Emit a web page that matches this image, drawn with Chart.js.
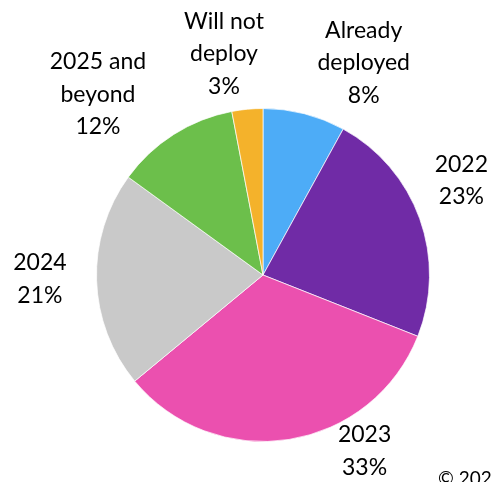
<!DOCTYPE html>
<html>
<head>
<meta charset="utf-8">
<script src="https://cdn.jsdelivr.net/npm/chart.js@4"></script>
<style>
  html, body { margin: 0; padding: 0; background: #fff; }
  #wrap { width: 492px; height: 482px; position: relative; }
</style>
</head>
<body>
<div id="wrap"><canvas id="pie"></canvas></div>
<script>
// Slice names (clockwise from 12 o'clock) and shares in percent
const categories = ['Already\ndeployed', '2022', '2023', '2024', '2025 and\nbeyond', 'Will not\ndeploy'];
const shares = [8, 23, 33, 21, 12, 3];
const sliceColors = ['#4DACF7', '#702BA6', '#EB50AF', '#C9C9C9', '#6CBF4B', '#F4B22B'];

// where each label sits: degrees turned from the slice middle, and distance in radii
const labelTurn = [11, -5.7, -21, 0.8, -10, -4.6];
const labelDist = [1.41, 1.32, 1.22, 1.34, 1.47, 1.35];

const FONT = 'Lato, "Open Sans", sans-serif';

const outsideLabels = {
    id: 'outsideLabels',
    afterDraw(chart) {
        const ctx = chart.ctx;
        const meta = chart.getDatasetMeta(0);
        ctx.save();
        ctx.fillStyle = '#000';
        ctx.font = '23px ' + FONT;
        ctx.textAlign = 'center';
        ctx.textBaseline = 'middle';
        meta.data.forEach((arc, i) => {
            const p = arc.getProps(['x', 'y', 'startAngle', 'endAngle', 'outerRadius'], true);
            const mid = (p.startAngle + p.endAngle) / 2 + labelTurn[i] * Math.PI / 180;
            const cx = p.x + Math.cos(mid) * p.outerRadius * labelDist[i];
            const cy = p.y + Math.sin(mid) * p.outerRadius * labelDist[i];
            const lines = categories[i].split('\n').concat(shares[i] + '%');
            const lh = 32.5;
            lines.forEach((t, k) => {
                ctx.fillText(t, cx, cy + (k - (lines.length - 1) / 2) * lh);
            });
        });
        // copyright note, cut off by the bottom edge
        ctx.font = '19px ' + FONT;
        ctx.textAlign = 'left';
        ctx.textBaseline = 'top';
        ctx.fillText('\u00A9 2022', 438, 469);
        ctx.restore();
    }
};

new Chart(document.getElementById('pie'), {
    type: 'pie',
    data: {
        labels: categories.map(c => c.replace('\n', ' ')),
        datasets: [{
            data: shares,
            backgroundColor: sliceColors,
            borderColor: 'rgba(255,255,255,0.7)',
            borderWidth: 1
        }]
    },
    options: {
        responsive: true,
        maintainAspectRatio: false,
        animation: false,
        layout: { padding: { top: 108, bottom: 40, left: 96, right: 62 } },
        plugins: {
            legend: { display: false },
            tooltip: { enabled: false }
        }
    },
    plugins: [outsideLabels]
});
</script>
</body>
</html>
